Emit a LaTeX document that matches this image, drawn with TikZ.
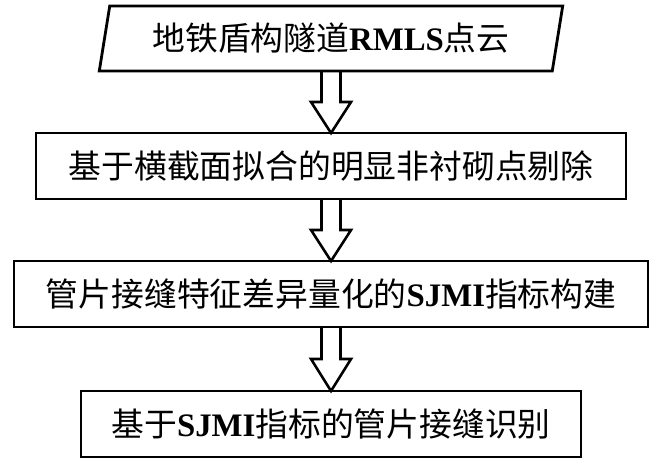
\documentclass[tikz,border=0pt]{standalone}
\usepackage{fontspec}
\usepackage{tikz}
\usetikzlibrary{calc}
\usetikzlibrary{positioning}
\usetikzlibrary{shapes.geometric}
\tikzset{>=stealth}
\newfontfamily\cjk{Noto Sans CJK SC}
\newfontfamily\latn{Liberation Serif}
\newcommand{\lat}[1]{{\latn\bfseries #1}}

\begin{document}
\begin{tikzpicture}[node distance = 1.86cm,
    stepbox/.style = {draw, line width=2.4pt, minimum height=1.98cm, inner sep=0pt, outer sep=0pt,
        font=\cjk\fontsize{28}{30}\selectfont},
    inputbox/.style = {stepbox, trapezium, trapezium left angle=74.5,
        trapezium right angle=105.5, trapezium stretches=true, minimum height=1.95cm},
    fatarrow/.style = {line width=2.2pt, line join=miter}]
        \useasboundingbox (0,0) rectangle (19.68,-13.92);
        \node (cloud) [inputbox, minimum width=13.92cm] at (9.93,-1.155) {地铁盾构隧道\lat{RMLS}点云};
        \node (denoise) [stepbox, minimum width=17.7cm, below = of cloud] {基于横截面拟合的明显非衬砌点剔除};
        \node (sjmi) [stepbox, minimum width=19.02cm, below = of denoise] {管片接缝特征差异量化的\lat{SJMI}指标构建};
        \node (joint) [stepbox, minimum width=15cm, below = 1.92cm of sjmi] {基于\lat{SJMI}指标的管片接缝识别};

        \foreach \a/\b in {cloud/denoise, denoise/sjmi, sjmi/joint}
            \draw [fatarrow] ($(\a.south)+(-.285,0)$) -- ($(\a.south)!.5!(\b.north)+(-.285,0)$)
                -- ++(-.315,0) -- (\b.north) -- ($(\a.south)!.5!(\b.north)+(.6,0)$)
                -- ++(-.315,0) -- ($(\a.south)+(.285,0)$) ;
    \end{tikzpicture}
\end{document}
